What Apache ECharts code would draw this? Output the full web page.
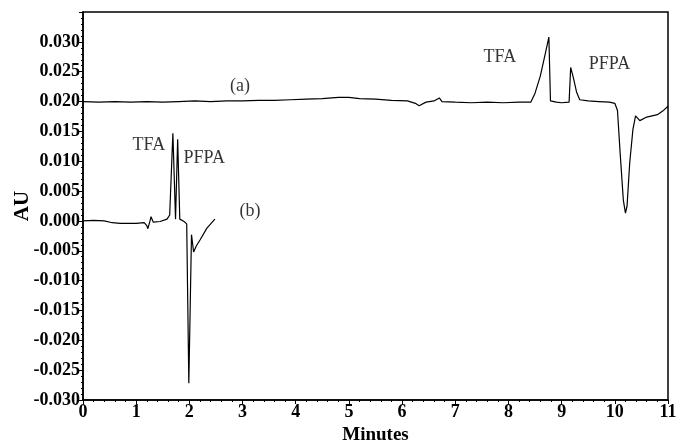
<!DOCTYPE html>
<html>
<head>
<meta charset="utf-8">
<script src="https://cdn.jsdelivr.net/npm/echarts@6/dist/echarts.min.js"></script>
<style>
  html, body { margin: 0; padding: 0; background: #fff; }
  #chart { width: 678px; height: 448px; }
</style>
</head>
<body>
<div id="chart"></div>
<script>
// trace (a), offset to 0.020 AU
var aTime = [0, 0.3, 0.6, 0.9, 1.2, 1.5, 1.8, 2.1, 2.4, 2.7, 3.0, 3.3, 3.6, 3.9, 4.2, 4.5, 4.8, 5.0, 5.2, 5.5, 5.8, 6.1, 6.25, 6.32, 6.45, 6.6, 6.7, 6.75, 7.0, 7.3, 7.6, 7.9, 8.2, 8.42, 8.5, 8.6, 8.7, 8.76, 8.79, 8.9, 9.0, 9.14, 9.17, 9.22, 9.28, 9.34, 9.5, 9.7, 9.9, 10.0, 10.05, 10.1, 10.16, 10.2, 10.23, 10.28, 10.34, 10.39, 10.47, 10.6, 10.8, 10.9, 11.0];
var aAbs = [0.0200, 0.0199, 0.0200, 0.0199, 0.0200, 0.0199, 0.0200, 0.0201, 0.0200, 0.0201, 0.0201, 0.0202, 0.0202, 0.0203, 0.0204, 0.0205, 0.0207, 0.0207, 0.0205, 0.0204, 0.0202, 0.0201, 0.0197, 0.0193, 0.0199, 0.0201, 0.0206, 0.0200, 0.0199, 0.0198, 0.0199, 0.0198, 0.0199, 0.0199, 0.0214, 0.0243, 0.0283, 0.0308, 0.0201, 0.0199, 0.0198, 0.0199, 0.0257, 0.0240, 0.0216, 0.0203, 0.0201, 0.0200, 0.0199, 0.0197, 0.0185, 0.0114, 0.0035, 0.0013, 0.0025, 0.0097, 0.0153, 0.0176, 0.0168, 0.0174, 0.0178, 0.0184, 0.0192];

// trace (b)
var bTime = [0, 0.2, 0.4, 0.55, 0.7, 1.0, 1.15, 1.2, 1.22, 1.26, 1.28, 1.32, 1.45, 1.58, 1.63, 1.69, 1.74, 1.78, 1.82, 1.9, 1.95, 1.99, 2.04, 2.08, 2.13, 2.2, 2.33, 2.48];
var bAbs = [0.0000, 0.0001, 0.0000, -0.0003, -0.0004, -0.0004, -0.0003, -0.0008, -0.0013, 0.0000, 0.0007, -0.0002, -0.0001, 0.0003, 0.0010, 0.0147, 0.0003, 0.0137, 0.0003, -0.0001, -0.0005, -0.0272, -0.0023, -0.0052, -0.0042, -0.0032, -0.0012, 0.0003];

// text notes on the plot
var noteText = ['(a)', '(b)', 'TFA', 'PFPA', 'TFA', 'PFPA'];
var noteTime = [2.95, 3.14, 7.84, 9.9, 1.24, 2.28];
var noteAbs = [0.0226, 0.0016, 0.0275, 0.0262, 0.0127, 0.0105];

function pairs(xs, ys) {
    var out = [];
    for (var i = 0; i < xs.length; i++) out.push([xs[i], ys[i]]);
    return out;
}

var notes = [];
for (var i = 0; i < noteText.length; i++) {
    notes.push({ value: [noteTime[i], noteAbs[i]], label: { formatter: noteText[i] } });
}

var serif = 'Liberation Serif';
var chart = echarts.init(document.getElementById('chart'));
var option = {
    backgroundColor: '#fff',
    animation: false,
    grid: {
        left: 83, right: 10, top: 12, bottom: 48,
        outerBoundsMode: 'none',
        show: true,
        borderColor: '#000',
        borderWidth: 1.5
    },
    xAxis: {
        type: 'value',
        min: 0, max: 11, interval: 1,
        name: 'Minutes',
        nameLocation: 'middle',
        nameGap: 24,
        nameTextStyle: { fontFamily: serif, fontWeight: 'bold', fontSize: 19, color: '#000' },
        axisLine: { onZero: false, lineStyle: { color: '#000', width: 1.5 } },
        axisTick: { length: 4, lineStyle: { color: '#000' } },
        minorTick: { show: true, splitNumber: 5, length: 2, lineStyle: { color: '#000' } },
        splitLine: { show: false },
        axisLabel: { fontFamily: serif, fontWeight: 'bold', fontSize: 18, color: '#000', margin: 3 }
    },
    yAxis: {
        type: 'value',
        min: -0.030, max: 0.035, interval: 0.005,
        name: 'AU',
        nameLocation: 'middle',
        nameGap: 50,
        nameMoveOverlap: false,
        nameRotate: 90,
        nameTextStyle: { fontFamily: serif, fontWeight: 'bold', fontSize: 21, color: '#000' },
        axisLine: { onZero: false, lineStyle: { color: '#000', width: 1.5 } },
        axisTick: { length: 4, lineStyle: { color: '#000' } },
        minorTick: { show: true, splitNumber: 5, length: 2, lineStyle: { color: '#000' } },
        splitLine: { show: false },
        axisLabel: {
            fontFamily: serif, fontWeight: 'bold', fontSize: 18, color: '#000', margin: 3,
            formatter: function (v) {
                if (v > 0.0345) return '';
                if (Math.abs(v) < 1e-9) return '0.000';
                return v.toFixed(3);
            }
        }
    },
    series: [
        {
            name: '(a)',
            type: 'line',
            data: pairs(aTime, aAbs),
            showSymbol: false,
            lineStyle: { color: '#000', width: 1.2 }
        },
        {
            name: '(b)',
            type: 'line',
            data: pairs(bTime, bAbs),
            showSymbol: false,
            lineStyle: { color: '#000', width: 1.2 }
        },
        {
            name: 'notes',
            type: 'scatter',
            data: notes,
            symbolSize: 1,
            itemStyle: { color: 'rgba(0,0,0,0)' },
            silent: true,
            label: {
                show: true,
                position: 'inside',
                fontFamily: serif,
                fontSize: 18,
                color: '#000'
            }
        }
    ]
};
chart.setOption(option);
window.onresize = chart.resize;
</script>
</body>
</html>
